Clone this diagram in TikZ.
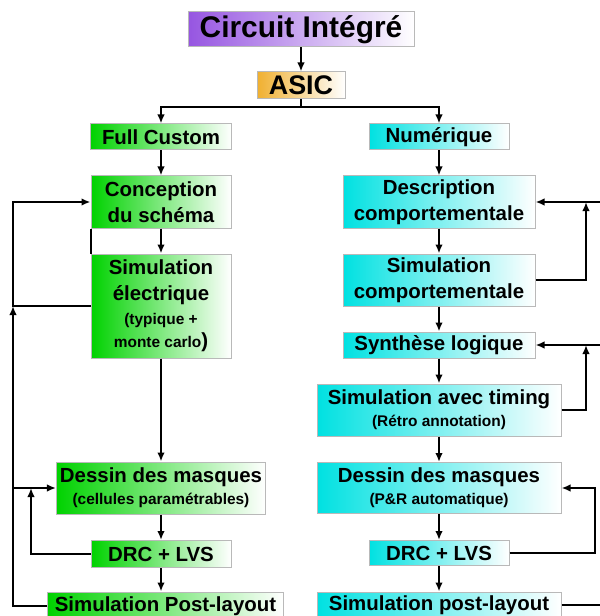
\documentclass[tikz,border=0pt]{standalone}
\usepackage{fontspec}
\setmainfont{Liberation Sans}
\usetikzlibrary{arrows.meta}

\newcommand{\smallTxt}{\fontsize{15.5}{22}\selectfont}

\begin{document}
\begin{tikzpicture}[x=1bp, y=-1bp, >={Latex[length=9bp,width=7.5bp]},
  flow/.style={line width=2bp},
  box/.style={draw=gray!55, line width=1bp, inner sep=0pt, align=center,
    font=\fontsize{20.5}{26}\selectfont\bfseries},
  purpleBox/.style={box, left color=cPurple, right color=white},
  orangeBox/.style={box, left color=cOrange, right color=white},
  greenBox/.style={box, left color=cGreen, right color=white},
  cyanBox/.style={box, left color=cCyan, right color=white}]

  \definecolor{cPurple}{RGB}{150,85,225}
  \definecolor{cOrange}{RGB}{240,176,48}
  \definecolor{cGreen}{RGB}{0,210,0}
  \definecolor{cCyan}{RGB}{0,225,225}

\useasboundingbox (0,0) rectangle (600,616);

% top
\node[purpleBox, minimum width=226bp, minimum height=35bp, font=\fontsize{30}{34}\selectfont\bfseries]
  (ci) at (301,29.5) {Circuit Intégré};
\node[orangeBox, minimum width=88bp, minimum height=27bp, font=\fontsize{27}{30}\selectfont\bfseries]
  (asic) at (301,85.5) {ASIC};

% full custom branch
\node[greenBox, minimum width=141bp, minimum height=26bp] (fc) at (161,137) {Full Custom};
\node[greenBox, minimum width=140bp, minimum height=52bp] (concep) at (161,202) {Conception\\du schéma};
\node[greenBox, minimum width=140bp, minimum height=104bp] (simE) at (161,306)
  {Simulation\\électrique\\[-2pt]{\smallTxt (typique +}\\[-3pt]{\smallTxt monte carlo})};
\node[greenBox, minimum width=209bp, minimum height=52bp] (dessinL) at (161,488)
  {Dessin des masques\\[-4pt]{\smallTxt (cellules paramétrables)}};
\node[greenBox, minimum width=140bp, minimum height=27bp] (drcL) at (161,554) {DRC + LVS};
\node[greenBox, minimum width=235bp, minimum height=28bp] (postL) at (165.5,606) {Simulation Post-layout};

% numerique branch
\node[cyanBox, minimum width=140bp, minimum height=26bp] (num) at (439,137) {Numérique};
\node[cyanBox, minimum width=192bp, minimum height=52bp] (desc) at (439,202) {Description\\comportementale};
\node[cyanBox, minimum width=192bp, minimum height=52bp] (simC) at (439,280) {Simulation\\comportementale};
\node[cyanBox, minimum width=192bp, minimum height=26bp] (synth) at (439,345) {Synthèse logique};
\node[cyanBox, minimum width=244bp, minimum height=52bp] (simT) at (439,410)
  {Simulation avec timing\\[-4pt]{\smallTxt (Rétro annotation)}};
\node[cyanBox, minimum width=244bp, minimum height=51bp] (dessinR) at (439,488)
  {Dessin des masques\\[-4pt]{\smallTxt (P\&R automatique)}};
\node[cyanBox, minimum width=140bp, minimum height=25bp] (drcR) at (439,553) {DRC + LVS};
\node[cyanBox, minimum width=244bp, minimum height=26bp] (postR) at (439,605) {Simulation post-layout};

% main flow
\begin{scope}[flow]
\draw[->] (ci) -- (asic);
\draw[->] (asic.south) -- ++(0,8) coordinate (split) -| (fc.north);
\draw[->] (split) -| (num.north);
\draw[->] (fc) -- (concep);
\draw[->] (concep) -- (simE);
\draw[->] (simE) -- (dessinL);
\draw[->] (dessinL) -- (drcL);
\draw[->] (drcL.south) -- (drcL.south |- postL.north);
\draw[->] (num) -- (desc);
\draw[->] (desc) -- (simC);
\draw[->] (simC) -- (synth);
\draw[->] (synth) -- (simT);
\draw[->] (simT) -- (dessinR);
\draw[->] (dessinR) -- (drcR);
\draw[->] (drcR) -- (postR);

% loops, left
\coordinate (jlA) at (13,306);
\coordinate (jlB) at (13,488);
\coordinate (jlC) at (31,488);
\draw[->] (postL.west) -| (jlA);
\draw[->] (simE.west) -- (jlA) |- (concep.west);
\draw[->] (jlB) -- (dessinL.west);
\draw[->] (drcL.west) -| (jlC);
\draw (concep.south west) -- (simE.north west);

% loops, right
\coordinate (jrA) at (586,202);
\coordinate (jrB) at (586,345);
\coordinate (erA) at (610,202);
\coordinate (erB) at (610,345);
\coordinate (erC) at (610,605);
\draw[->] (simC.east) -| (jrA);
\draw[->] (erA) -- (desc.east);
\draw[->] (simT.east) -| (jrB);
\draw[->] (erB) -- (synth.east);
\draw[->] (drcR.east) -- ++(85,0) |- (dessinR.east);
\draw (postR.east) -- (erC);
\end{scope}

\end{tikzpicture}
\end{document}
